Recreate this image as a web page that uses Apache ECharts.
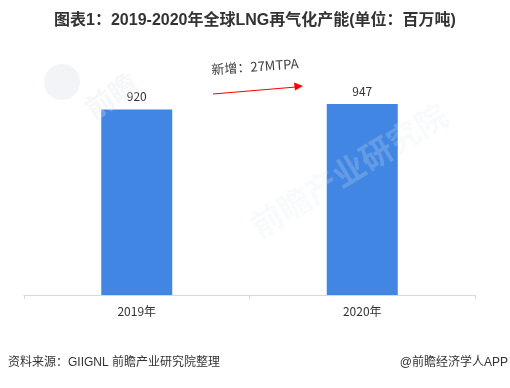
<!DOCTYPE html>
<html><head><meta charset="utf-8">
<script src="https://cdn.jsdelivr.net/npm/echarts@6/dist/echarts.min.js"></script>
<style>html,body{margin:0;padding:0;background:#fff}#c{width:510px;height:388px}</style>
</head><body><div id="c"></div>
<script>
const categories = ['2019年', '2020年'];
const capacity = [920, 947];
const titleText = '图表1：2019-2020年全球LNG再气化产能(单位：百万吨)';
const noteText = '新增：27MTPA';
const sourceText = '资料来源：GIIGNL 前瞻产业研究院整理';
const brandText = '@前瞻经济学人APP';

const chart = echarts.init(document.getElementById('c'));
const font = '"Noto Sans CJK SC", sans-serif';
const afont = '"Liberation Sans", "Noto Sans CJK SC", sans-serif';
chart.setOption({
  animation: false,
  title: {
    text: titleText, left: 'center', top: 8,
    textStyle: { fontSize: 16, fontWeight: 'bold', color: '#333', fontFamily: afont }
  },
  grid: { left: 24, right: 35, top: 93.4, bottom: 93 },
  xAxis: {
    type: 'category', data: categories,
    axisLine: { lineStyle: { color: '#d9d9d9' } },
    axisTick: { show: true, length: 4, lineStyle: { color: '#d9d9d9' } },
    axisLabel: { color: '#333', fontSize: 12, margin: 10, fontFamily: font }
  },
  yAxis: { type: 'value', min: 0, max: 1000, show: false, splitLine: { show: false } },
  series: [{
    type: 'bar', data: capacity, barWidth: 71,
    itemStyle: { color: '#4286E3' },
    label: { show: true, position: 'top', distance: 7, color: '#333', fontSize: 12, fontFamily: font }
  }],
  graphic: [
    { type: 'text', x: 245, y: 215, rotation: 0.55, z: 100, style: { text: '前瞻产业研究院', fill: 'rgba(225,230,236,0.22)', font: 'bold 32px ' + font } },
    { type: 'text', x: 80, y: 100, rotation: 0.6, z: 100, style: { text: '前瞻', fill: 'rgba(225,230,236,0.3)', font: 'bold 28px ' + font } },
    { type: 'circle', shape: { cx: 62, cy: 82, r: 18 }, z: -1, style: { fill: 'rgba(215,220,228,0.3)' } },
    { type: 'text', left: 8, top: 357, style: { text: sourceText, fill: '#333', font: '12px ' + afont } },
    { type: 'text', right: 2, top: 357, style: { text: brandText, fill: '#333', font: '12px ' + afont } },
    { type: 'text', x: 211, y: 63, rotation: 0.07, style: { text: noteText, fill: '#404040', font: '13px ' + font } },
    { type: 'line', shape: { x1: 213, y1: 94, x2: 296, y2: 87 }, style: { stroke: '#f00', lineWidth: 1.2 } },
    { type: 'polygon', shape: { points: [[303, 86], [294, 82.5], [295, 90.5]] }, style: { fill: '#f00' } }
  ]
});
</script></body></html>
